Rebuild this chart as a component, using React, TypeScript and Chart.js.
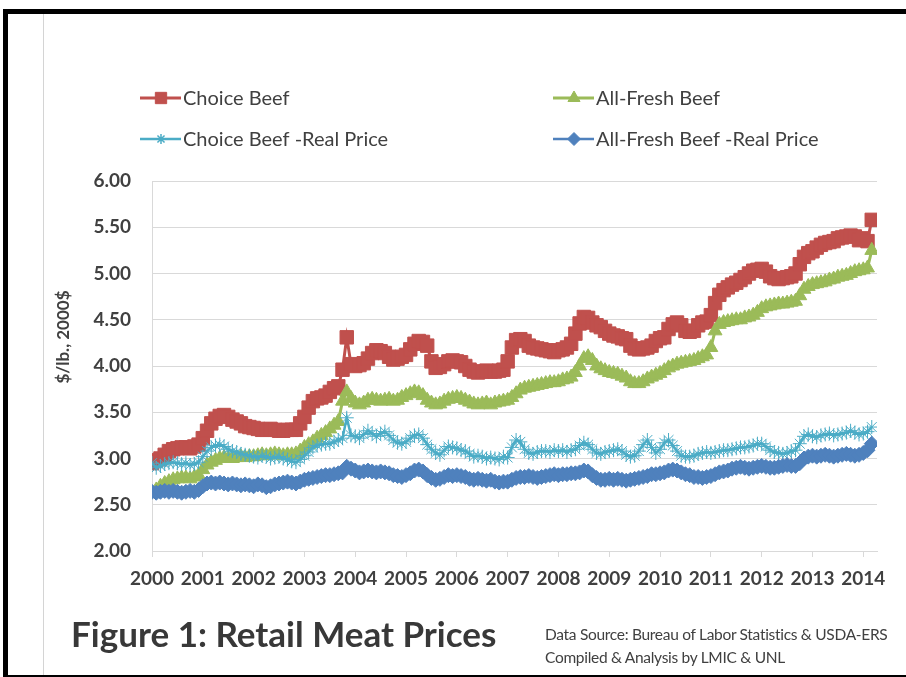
import React, { useEffect, useRef } from 'react';
import { Chart, registerables } from 'chart.js';
import { drawPoint } from 'chart.js/helpers';

Chart.register(...registerables);

// ---- data (monthly, Jan 2000 .. Mar 2014) ----
const startYear = 2000;
const yearTicks = [2000, 2001, 2002, 2003, 2004, 2005, 2006, 2007, 2008, 2009, 2010, 2011, 2012, 2013, 2014];
const seriesLabels = ['Choice Beef', 'All-Fresh Beef', 'Choice Beef -Real Price', 'All-Fresh Beef -Real Price'];

const choiceBeef = [
  2.95, 2.98, 3.00, 3.04, 3.08, 3.10, 3.11, 3.12, 3.12, 3.11, 3.13, 3.15,
  3.22, 3.30, 3.38, 3.43, 3.46, 3.47, 3.45, 3.42, 3.40, 3.38, 3.35, 3.34,
  3.33, 3.32, 3.31, 3.31, 3.32, 3.31, 3.30, 3.30, 3.31, 3.31, 3.31, 3.38,
  3.45, 3.55, 3.62, 3.65, 3.66, 3.68, 3.72, 3.76, 3.78, 3.96, 4.31, 4.02,
  4.00, 4.01, 4.03, 4.08, 4.14, 4.17, 4.16, 4.14, 4.10, 4.07, 4.08, 4.10,
  4.12, 4.18, 4.24, 4.27, 4.26, 4.22, 4.05, 3.98, 3.99, 4.02, 4.05, 4.06,
  4.05, 4.04, 4.00, 3.96, 3.94, 3.93, 3.94, 3.95, 3.94, 3.94, 3.95, 3.96,
  4.05, 4.20, 4.28, 4.29, 4.27, 4.22, 4.20, 4.19, 4.18, 4.17, 4.16, 4.15,
  4.17, 4.18, 4.20, 4.24, 4.35, 4.46, 4.53, 4.52, 4.47, 4.44, 4.42, 4.38,
  4.35, 4.33, 4.32, 4.30, 4.29, 4.22, 4.19, 4.18, 4.19, 4.20, 4.22, 4.27,
  4.30, 4.31, 4.40, 4.45, 4.47, 4.44, 4.38, 4.37, 4.38, 4.44, 4.47, 4.48,
  4.55, 4.68, 4.77, 4.82, 4.85, 4.88, 4.90, 4.93, 4.96, 5.00, 5.03, 5.04,
  5.05, 5.02, 4.97, 4.95, 4.94, 4.95, 4.96, 4.97, 5.00, 5.10, 5.18, 5.22,
  5.24, 5.28, 5.31, 5.33, 5.34, 5.35, 5.38, 5.39, 5.40, 5.41, 5.40, 5.36,
  5.38, 5.35, 5.58,
];

const allFreshBeef = [
  2.62, 2.66, 2.70, 2.73, 2.75, 2.77, 2.78, 2.79, 2.79, 2.78, 2.80, 2.82,
  2.88, 2.93, 2.96, 2.98, 3.00, 3.01, 3.00, 3.00, 3.01, 3.02, 3.01, 3.02,
  3.02, 3.03, 3.04, 3.03, 3.04, 3.05, 3.04, 3.03, 3.04, 3.04, 3.05, 3.08,
  3.12, 3.15, 3.18, 3.22, 3.25, 3.28, 3.32, 3.36, 3.40, 3.62, 3.72, 3.65,
  3.60, 3.58, 3.60, 3.63, 3.64, 3.63, 3.62, 3.63, 3.64, 3.62, 3.63, 3.66,
  3.68, 3.70, 3.72, 3.71, 3.68, 3.63, 3.60, 3.58, 3.59, 3.62, 3.64, 3.65,
  3.66, 3.65, 3.63, 3.61, 3.59, 3.58, 3.59, 3.60, 3.58, 3.60, 3.61, 3.62,
  3.63, 3.66, 3.70, 3.74, 3.76, 3.77, 3.78, 3.79, 3.80, 3.81, 3.82, 3.82,
  3.83, 3.85, 3.86, 3.88, 3.93, 4.00, 4.08, 4.10, 4.06, 4.00, 3.97, 3.95,
  3.93, 3.92, 3.91, 3.89, 3.87, 3.83, 3.81, 3.81, 3.83, 3.86, 3.88, 3.90,
  3.92, 3.95, 3.98, 4.00, 4.02, 4.03, 4.04, 4.05, 4.06, 4.08, 4.10, 4.12,
  4.20, 4.38, 4.45, 4.47, 4.48, 4.49, 4.50, 4.50, 4.52, 4.53, 4.55, 4.58,
  4.62, 4.64, 4.65, 4.66, 4.67, 4.67, 4.68, 4.69, 4.70, 4.76, 4.83, 4.86,
  4.88, 4.89, 4.90, 4.91, 4.93, 4.94, 4.96, 4.97, 4.98, 5.00, 5.02, 5.03,
  5.04, 5.06, 5.25,
];

const choiceBeefReal = [
  2.95, 2.90, 2.92, 2.94, 2.95, 2.96, 2.95, 2.94, 2.95, 2.93, 2.94, 2.96,
  3.02, 3.08, 3.12, 3.14, 3.15, 3.13, 3.10, 3.08, 3.07, 3.05, 3.04, 3.03,
  3.02, 3.01, 3.03, 3.02, 3.00, 3.01, 3.02, 3.00, 2.99, 2.97, 2.96, 2.99,
  3.03, 3.07, 3.12, 3.14, 3.15, 3.16, 3.16, 3.18, 3.20, 3.22, 3.44, 3.25,
  3.24, 3.22, 3.26, 3.30, 3.27, 3.24, 3.27, 3.29, 3.25, 3.20, 3.17, 3.16,
  3.18, 3.22, 3.25, 3.26, 3.22, 3.15, 3.10, 3.06, 3.04, 3.09, 3.13, 3.12,
  3.11, 3.09, 3.08, 3.05, 3.02, 3.03, 3.02, 3.00, 3.01, 3.00, 2.99, 3.02,
  3.01, 3.12, 3.20, 3.18, 3.10, 3.06, 3.05, 3.07, 3.08, 3.08, 3.07, 3.09,
  3.08, 3.09, 3.07, 3.09, 3.10, 3.14, 3.17, 3.15, 3.10, 3.06, 3.05, 3.07,
  3.08, 3.09, 3.10, 3.08, 3.04, 3.02, 3.03, 3.08, 3.15, 3.20, 3.12, 3.06,
  3.10, 3.17, 3.20, 3.14, 3.08, 3.03, 3.02, 3.02, 3.03, 3.05, 3.06, 3.07,
  3.06, 3.07, 3.08, 3.09, 3.09, 3.10, 3.11, 3.12, 3.12, 3.13, 3.14, 3.16,
  3.16, 3.13, 3.09, 3.07, 3.06, 3.05, 3.06, 3.08, 3.09, 3.16, 3.24, 3.26,
  3.24, 3.23, 3.25, 3.26, 3.27, 3.25, 3.26, 3.27, 3.28, 3.30, 3.28, 3.26,
  3.27, 3.29, 3.34,
];

const allFreshBeefReal = [
  2.64, 2.63, 2.64, 2.65, 2.64, 2.65, 2.64, 2.63, 2.64, 2.65, 2.64, 2.66,
  2.70, 2.73, 2.74, 2.73, 2.74, 2.73, 2.72, 2.73, 2.72, 2.71, 2.72, 2.71,
  2.70, 2.72, 2.71, 2.69, 2.70, 2.72, 2.73, 2.74, 2.75, 2.74, 2.73, 2.75,
  2.77, 2.78, 2.79, 2.80, 2.81, 2.82, 2.82, 2.83, 2.84, 2.85, 2.91, 2.89,
  2.87, 2.85, 2.86, 2.87, 2.86, 2.85, 2.86, 2.85, 2.84, 2.82, 2.81, 2.80,
  2.82, 2.84, 2.87, 2.88, 2.86, 2.82, 2.79, 2.77, 2.78, 2.80, 2.82, 2.81,
  2.82, 2.81, 2.80, 2.78, 2.77, 2.78, 2.77, 2.76, 2.77, 2.75, 2.74, 2.75,
  2.75, 2.77, 2.79, 2.80, 2.80, 2.81, 2.80, 2.79, 2.80, 2.81, 2.82, 2.83,
  2.82, 2.83, 2.83, 2.84, 2.84, 2.85, 2.87, 2.86, 2.82, 2.79, 2.77, 2.77,
  2.78, 2.77, 2.78, 2.77, 2.76, 2.77, 2.78, 2.79, 2.80, 2.81, 2.83, 2.83,
  2.84, 2.85, 2.87, 2.88, 2.87, 2.85, 2.83, 2.82, 2.80, 2.80, 2.79, 2.80,
  2.81, 2.83, 2.85, 2.86, 2.87, 2.89, 2.90, 2.91, 2.90, 2.89, 2.90, 2.91,
  2.92, 2.91, 2.90, 2.90, 2.91, 2.92, 2.93, 2.92, 2.92, 2.95, 3.00, 3.02,
  3.03, 3.02, 3.03, 3.04, 3.03, 3.02, 3.03, 3.04, 3.05, 3.04, 3.03, 3.04,
  3.06, 3.09, 3.16,
];

const toPoints = (vals: number[]) => vals.map((v, i) => ({ x: startYear + i / 12, y: v }));

const TEXT = '#404040';

const overlayPlugin = {
  id: 'overlay',
  afterDraw(chart: any) {
    const ctx = chart.ctx as CanvasRenderingContext2D;
    chart.data.datasets.forEach((ds: any, i: number) => {
      const col = i % 2;
      const row = Math.floor(i / 2);
      const x0 = col === 0 ? 140 : 553;
      const y = row === 0 ? 98 : 139;
      ctx.save();
      ctx.strokeStyle = ds.borderColor;
      ctx.lineWidth = ds.borderWidth;
      ctx.beginPath();
      ctx.moveTo(x0, y);
      ctx.lineTo(x0 + 41, y);
      ctx.stroke();
      ctx.fillStyle = ds.pointBackgroundColor;
      ctx.strokeStyle = ds.pointBorderColor;
      ctx.lineWidth = ds.pointStyle === 'star' ? 1.5 : 1;
      drawPoint(ctx, { pointStyle: ds.pointStyle, radius: ds.legendRadius, rotation: 0, borderWidth: ctx.lineWidth }, x0 + 21, y);
      ctx.fillStyle = TEXT;
      ctx.font = '20px Lato';
      ctx.textBaseline = 'middle';
      ctx.textAlign = 'left';
      ctx.fillText(ds.label, x0 + 43, y + 1);
      ctx.restore();
    });
    // y axis title
    ctx.save();
    ctx.translate(64, 337);
    ctx.rotate(-Math.PI / 2);
    ctx.fillStyle = TEXT;
    ctx.font = 'bold 17px Lato';
    ctx.textAlign = 'center';
    ctx.textBaseline = 'middle';
    ctx.fillText('$/lb., 2000$', 0, 0);
    ctx.restore();
  },
};

export default function App() {
  const ref = useRef<HTMLCanvasElement>(null);
  useEffect(() => {
    if (!ref.current) return;
    const chart = new Chart(ref.current, {
      type: 'line',
      data: {
        datasets: [
          {
            label: seriesLabels[0],
            data: toPoints(choiceBeef),
            borderColor: '#C0504D',
            backgroundColor: '#C0504D',
            pointBackgroundColor: '#C0504D',
            pointBorderColor: '#C0504D',
            borderWidth: 3,
            pointStyle: 'rect',
            pointRadius: 9.5,
            pointBorderWidth: 1,
            legendRadius: 8,
            order: 4,
          } as any,
          {
            label: seriesLabels[1],
            data: toPoints(allFreshBeef),
            borderColor: '#9BBB59',
            backgroundColor: '#9BBB59',
            pointBackgroundColor: '#9BBB59',
            pointBorderColor: '#9BBB59',
            borderWidth: 3,
            pointStyle: 'triangle',
            pointRadius: 8,
            pointBorderWidth: 1,
            legendRadius: 7,
            order: 3,
          } as any,
          {
            label: seriesLabels[2],
            data: toPoints(choiceBeefReal),
            borderColor: '#4BACC6',
            backgroundColor: '#4BACC6',
            pointBackgroundColor: '#4BACC6',
            pointBorderColor: '#4BACC6',
            borderWidth: 2.5,
            pointStyle: 'star',
            pointRadius: 7,
            pointBorderWidth: 1,
            legendRadius: 5,
            order: 2,
          } as any,
          {
            label: seriesLabels[3],
            data: toPoints(allFreshBeefReal),
            borderColor: '#4F81BD',
            backgroundColor: '#4F81BD',
            pointBackgroundColor: '#4F81BD',
            pointBorderColor: '#4F81BD',
            borderWidth: 2.5,
            pointStyle: 'rectRot',
            pointRadius: 7.5,
            pointBorderWidth: 1,
            legendRadius: 6.5,
            order: 1,
          } as any,
        ],
      },
      options: {
        responsive: false,
        animation: false,
        devicePixelRatio: 1,
        layout: { padding: { left: 0, right: 29, top: 181, bottom: 0 } },
        plugins: { legend: { display: false }, tooltip: { enabled: false }, title: { display: false } },
        elements: { line: { tension: 0 } },
        scales: {
          x: {
            type: 'linear',
            min: 2000,
            max: 2014.27,
            afterBuildTicks: (scale: any) => {
              scale.ticks = yearTicks.map((v) => ({ value: v }));
            },
            afterFit: (scale: any) => {
              scale.height = 126;
            },
            grid: { display: true, drawOnChartArea: false, drawTicks: true, tickLength: 6, color: '#d9d9d9' },
            border: { display: true, color: '#d9d9d9' },
            ticks: {
              autoSkip: false,
              maxRotation: 0,
              padding: 10,
              color: TEXT,
              font: { family: 'Lato', weight: 'bold', size: 19 },
              callback: (v: any) => String(v),
            },
          },
          y: {
            min: 2,
            max: 6,
            afterFit: (scale: any) => {
              scale.width = 152;
            },
            grid: { color: '#d9d9d9', drawTicks: false },
            border: { display: true, color: '#d9d9d9' },
            ticks: {
              stepSize: 0.5,
              padding: 21,
              color: TEXT,
              font: { family: 'Lato', weight: 'bold', size: 19 },
              callback: (v: any) => Number(v).toFixed(2),
            },
          },
        },
      } as any,
      plugins: [overlayPlugin],
    });
    return () => chart.destroy();
  }, []);

  return (
    <div style={{ position: 'absolute', left: 0, top: 0, width: 906, height: 677, background: '#fff', overflow: 'hidden' }}>
      <canvas ref={ref} width={906} height={677} style={{ position: 'absolute', left: 0, top: 0, width: 906, height: 677 }} />
      <div style={{ position: 'absolute', left: 43, top: 14, width: 1, height: 661, background: '#d4d4d4' }} />
      <div style={{ position: 'absolute', left: 4, top: 9, width: 902, height: 5, background: '#000' }} />
      <div style={{ position: 'absolute', left: 3, top: 9, width: 5, height: 668, background: '#000' }} />
      <div style={{ position: 'absolute', left: 3, top: 675, width: 903, height: 2, background: '#000' }} />
      <div
        style={{
          position: 'absolute',
          left: 71,
          top: 613,
          fontFamily: 'Lato',
          fontWeight: 'bold',
          fontSize: 35,
          lineHeight: '40px',
          color: '#383838',
          whiteSpace: 'nowrap',
        }}
      >
        Figure 1: Retail Meat Prices
      </div>
      <div
        style={{
          position: 'absolute',
          left: 545,
          top: 623,
          fontFamily: 'Lato',
          fontSize: 15.5,
          lineHeight: '23px',
          color: TEXT,
          whiteSpace: 'nowrap',
          letterSpacing: '-0.3px',
        }}
      >
        <div>Data Source: Bureau of Labor Statistics &amp; USDA-ERS</div>
        <div>Compiled &amp; Analysis by LMIC &amp; UNL</div>
      </div>
    </div>
  );
}
